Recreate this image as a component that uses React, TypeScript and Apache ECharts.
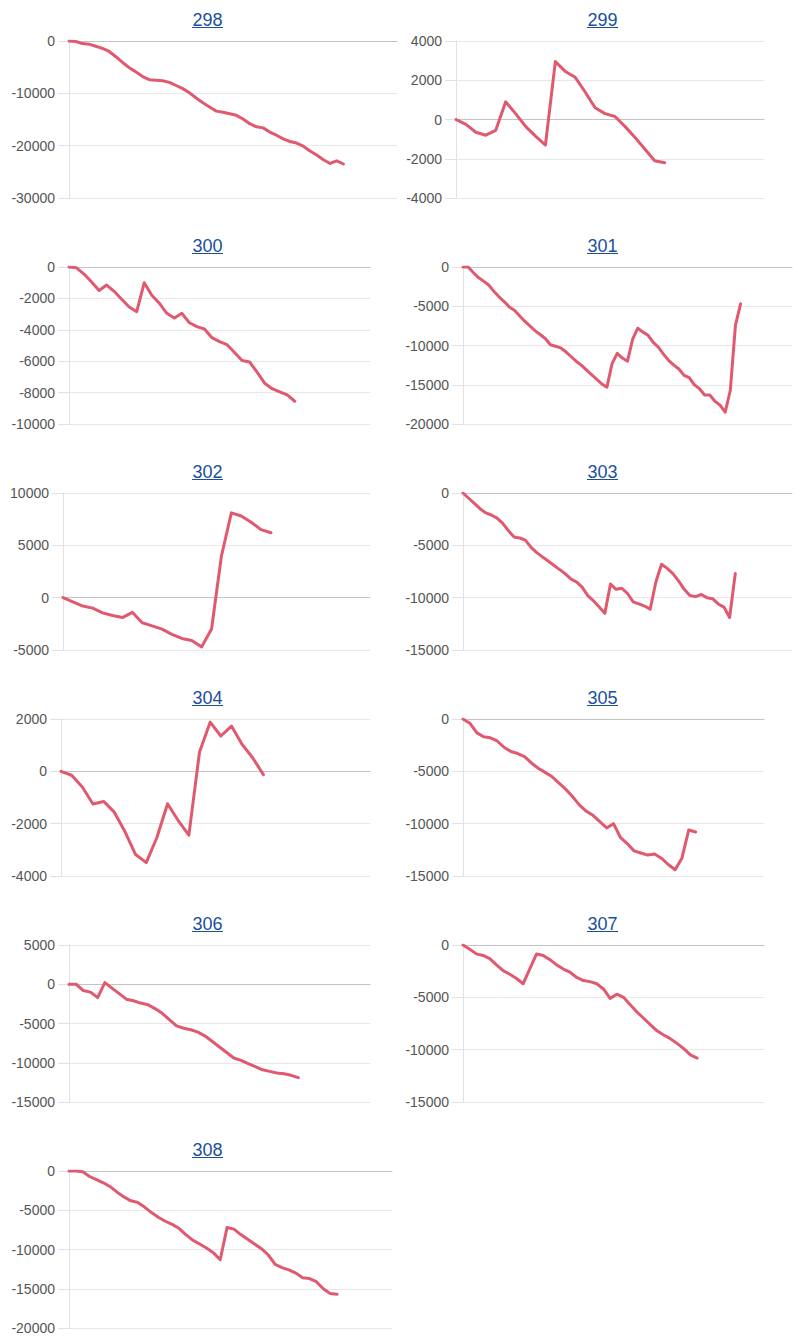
import React, { useEffect, useRef } from "react";
import * as echarts from "echarts";

// ---- Data ----
const titles = ["298", "299", "300", "301", "302", "303", "304", "305", "306", "307", "308"];

const values298 = [0, -100, -500, -600, -1000, -1400, -2000, -3000, -4100, -5100, -5900, -6800, -7400, -7500, -7600, -7900, -8500, -9100, -9900, -10900, -11800, -12600, -13400, -13600, -13900, -14200, -14900, -15800, -16400, -16600, -17400, -18000, -18700, -19200, -19500, -20100, -21000, -21800, -22700, -23400, -22900, -23500];
const values299 = [0, -250, -650, -800, -550, 900, 300, -350, -850, -1300, 2950, 2450, 2150, 1400, 600, 300, 150, -350, -900, -1500, -2100, -2200];
const values300 = [0, -50, -450, -950, -1500, -1150, -1550, -2050, -2550, -2850, -1000, -1800, -2300, -2950, -3250, -2950, -3550, -3800, -3950, -4500, -4750, -4950, -5450, -5950, -6050, -6700, -7400, -7750, -7950, -8150, -8550];
const values301 = [0, 0, -700, -1350, -1800, -2300, -3100, -3800, -4400, -5100, -5500, -6200, -6900, -7500, -8100, -8600, -9100, -9900, -10100, -10300, -10800, -11400, -12000, -12500, -13100, -13700, -14300, -14900, -15300, -12300, -11000, -11600, -12000, -9200, -7800, -8300, -8700, -9600, -10200, -11100, -11900, -12500, -13000, -13800, -14100, -15000, -15500, -16300, -16300, -17100, -17600, -18500, -15700, -7400, -4700];
const values302 = [0, -400, -800, -1000, -1450, -1700, -1900, -1400, -2400, -2700, -3000, -3500, -3900, -4100, -4700, -3000, 4000, 8100, 7800, 7200, 6500, 6200];
const values303 = [0, -500, -1000, -1500, -1900, -2100, -2400, -2900, -3600, -4200, -4300, -4500, -5200, -5700, -6100, -6500, -6900, -7300, -7700, -8200, -8500, -9000, -9800, -10300, -10900, -11500, -8700, -9200, -9100, -9600, -10400, -10600, -10800, -11100, -8500, -6800, -7200, -7700, -8400, -9200, -9800, -9900, -9700, -10000, -10100, -10600, -10900, -11900, -7700];
const values304 = [0, -150, -600, -1250, -1150, -1560, -2300, -3180, -3490, -2530, -1240, -1880, -2440, 740, 1880, 1350, 1730, 1030, 510, -130];
const values305 = [0, -400, -1300, -1700, -1800, -2100, -2700, -3100, -3300, -3600, -4200, -4700, -5100, -5500, -6100, -6700, -7400, -8200, -8800, -9200, -9800, -10400, -10000, -11300, -11900, -12600, -12800, -13000, -12900, -13300, -13900, -14400, -13300, -10600, -10800];
const values306 = [0, 0, -800, -1000, -1700, 200, -500, -1200, -1900, -2100, -2400, -2600, -3100, -3700, -4500, -5300, -5600, -5800, -6100, -6600, -7300, -8000, -8700, -9400, -9700, -10100, -10500, -10900, -11100, -11300, -11400, -11600, -11900];
const values307 = [0, -400, -850, -1000, -1300, -1900, -2450, -2800, -3200, -3700, -2250, -850, -1000, -1400, -1900, -2300, -2600, -3100, -3400, -3500, -3700, -4200, -5100, -4700, -5000, -5700, -6400, -7000, -7600, -8200, -8600, -8950, -9400, -9900, -10500, -10800];
const values308 = [0, 0, -100, -700, -1100, -1500, -2000, -2700, -3300, -3800, -4000, -4600, -5300, -5900, -6400, -6800, -7300, -8100, -8800, -9300, -9800, -10400, -11300, -7200, -7400, -8100, -8700, -9300, -9900, -10700, -11900, -12300, -12600, -13000, -13600, -13700, -14100, -15000, -15600, -15700];

const seriesValues = [values298, values299, values300, values301, values302, values303, values304, values305, values306, values307, values308];

// number of x categories on each chart's axis
const xCounts = [50, 32, 41, 65, 32, 59, 30, 45, 43, 46, 48];

// y axis tick labels (min, max, step)
const yMins = [-30000, -4000, -10000, -20000, -5000, -15000, -4000, -15000, -15000, -15000, -20000];
const yMaxs = [0, 4000, 0, 0, 10000, 0, 2000, 0, 5000, 0, 0];
const ySteps = [10000, 2000, 2000, 5000, 5000, 5000, 2000, 5000, 5000, 5000, 5000];

// ---- Layout (pixels) ----
const gridLefts = [69, 456, 69, 463, 63, 463, 61, 463, 69, 463, 69];
const gridRights = [397, 764, 370, 792, 370, 792, 370, 764, 370, 764, 392];
const ROW_H = 226;
const GRID_TOP = 41;
const GRID_H = 157;
const TITLE_Y = 19.5;
const COL_CENTERS = [207.5, 602.5];

const LINE_COLOR = "#e0596f";
const LINK_COLOR = "#1a4f9c";
const FONT = "'Liberation Sans', Arial, Helvetica, sans-serif";

export default function App() {
  const ref = useRef<HTMLDivElement>(null);

  useEffect(() => {
    if (!ref.current) return;
    const chart = echarts.init(ref.current, undefined, { renderer: "svg" });

    const grids: any[] = [];
    const xAxes: any[] = [];
    const yAxes: any[] = [];
    const series: any[] = [];
    const graphics: any[] = [];

    titles.forEach((t, i) => {
      const row = Math.floor(i / 2);
      const col = i % 2;
      const top = GRID_TOP + ROW_H * row;
      grids.push({
        left: gridLefts[i],
        top,
        width: gridRights[i] - gridLefts[i],
        height: GRID_H,
        containLabel: false,
      });
      xAxes.push({
        type: "category",
        gridIndex: i,
        boundaryGap: false,
        data: Array.from({ length: xCounts[i] }, (_, k) => String(k + 1)),
        axisLabel: { show: false },
        axisTick: { show: false },
        axisLine: { show: true, onZero: true, lineStyle: { color: "#c4c4c4", width: 1 } },
        splitLine: { show: false },
      });
      yAxes.push({
        type: "value",
        gridIndex: i,
        min: yMins[i],
        max: yMaxs[i],
        interval: ySteps[i],
        axisLine: { show: true, lineStyle: { color: "#e2e2e2", width: 1 } },
        axisTick: { show: true, length: 11, lineStyle: { color: "#e2e2e2" } },
        axisLabel: {
          color: "#555",
          fontSize: 14,
          fontFamily: FONT,
          margin: 14,
          formatter: (v: number) => String(v),
        },
        splitLine: { show: true, lineStyle: { color: "#e8e8e8", width: 1 } },
      });
      series.push({
        type: "line",
        xAxisIndex: i,
        yAxisIndex: i,
        data: seriesValues[i],
        showSymbol: false,
        symbol: "none",
        smooth: false,
        lineStyle: { color: LINE_COLOR, width: 3, cap: "round", join: "round" },
        z: 3,
      });

      const cx = COL_CENTERS[col];
      const ty = TITLE_Y + ROW_H * row;
      graphics.push({
        type: "text",
        x: cx,
        y: ty,
        style: {
          text: t,
          fill: LINK_COLOR,
          fontSize: 18,
          fontFamily: FONT,
          textAlign: "center",
          textVerticalAlign: "middle",
          align: "center",
          verticalAlign: "middle",
        },
      });
      graphics.push({
        type: "line",
        shape: { x1: cx - 15.5, y1: ty + 8, x2: cx + 15.5, y2: ty + 8 },
        style: { stroke: LINK_COLOR, lineWidth: 1 },
      });
    });

    chart.setOption({
      animation: false,
      backgroundColor: "#ffffff",
      grid: grids,
      xAxis: xAxes,
      yAxis: yAxes,
      series,
      graphic: graphics,
    });

    return () => chart.dispose();
  }, []);

  return (
    <div
      ref={ref}
      style={{ position: "absolute", left: 0, top: 0, width: 800, height: 1337 }}
    />
  );
}
